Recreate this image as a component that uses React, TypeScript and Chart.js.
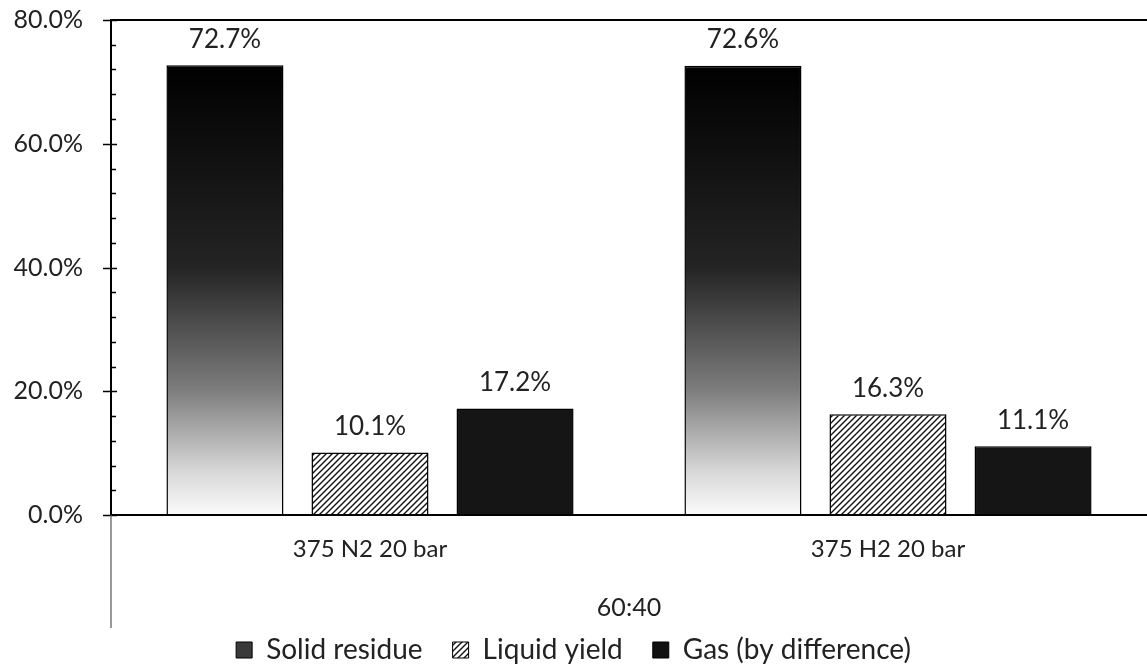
import React, { useEffect, useRef } from "react";
import { Chart, registerables } from "chart.js";

Chart.register(...registerables);

const categories = ["375 N2 20 bar", "375 H2 20 bar"];
const seriesNames = ["Solid residue", "Liquid yield", "Gas (by difference)"];
const solidResidue = [72.7, 72.6];
const liquidYield = [10.1, 16.3];
const gasByDifference = [17.2, 11.1];
const yMin = 0;
const yMax = 80;
const yMinorStep = 4;
const yMajorStep = 20;
const xAxisTitle = "60:40";

const FONT = "Lato, 'Open Sans', sans-serif";
const TEXT = "#222";

function makeHatch(): CanvasPattern | string {
  const c = document.createElement("canvas");
  c.width = 6;
  c.height = 6;
  const g = c.getContext("2d");
  if (!g) return "#999";
  g.fillStyle = "#fff";
  g.fillRect(0, 0, 6, 6);
  g.strokeStyle = "#111";
  g.lineWidth = 1.4;
  g.beginPath();
  g.moveTo(-1, 7);
  g.lineTo(7, -1);
  g.moveTo(-1, 1);
  g.lineTo(1, -1);
  g.moveTo(5, 7);
  g.lineTo(7, 5);
  g.stroke();
  const p = g.createPattern(c, "repeat");
  return p || "#999";
}

const labelPlugin = {
  id: "valueLabels",
  afterDatasetsDraw(chart: any) {
    const ctx = chart.ctx;
    ctx.save();
    ctx.font = `26px ${FONT}`;
    ctx.fillStyle = TEXT;
    ctx.textAlign = "center";
    ctx.textBaseline = "middle";
    chart.data.datasets.forEach((ds: any, i: number) => {
      const meta = chart.getDatasetMeta(i);
      meta.data.forEach((el: any, j: number) => {
        const v = ds.data[j];
        ctx.fillText(`${v.toFixed(1)}%`, el.x, el.y - 26);
      });
    });
    ctx.restore();
  },
};

const axisPlugin = {
  id: "axisTicks",
  afterDraw(chart: any) {
    const ctx = chart.ctx;
    const y = chart.scales.y;
    const x = chart.scales.x;
    const left = chart.chartArea.left;
    ctx.save();
    ctx.strokeStyle = "#000";
    ctx.lineWidth = 1.5;
    ctx.beginPath();
    y.ticks.forEach((t: any) => {
      const py = Math.round(y.getPixelForValue(t.value)) + 0.5;
      if (t.value % yMajorStep === 0) {
        ctx.moveTo(left - 8, py);
        ctx.lineTo(left + 6, py);
      } else {
        ctx.moveTo(left, py);
        ctx.lineTo(left + 5, py);
      }
    });
    ctx.stroke();
    ctx.strokeStyle = "#555";
    ctx.lineWidth = 1.2;
    ctx.beginPath();
    ctx.moveTo(left, chart.chartArea.bottom);
    ctx.lineTo(left, x.bottom + 22);
    ctx.stroke();
    ctx.restore();
  },
};

export default function App() {
  const ref = useRef<HTMLCanvasElement>(null);

  useEffect(() => {
    if (!ref.current) return;
    const hatch = makeHatch();

    const gradientFill = (c: any) => {
      const chart = c.chart;
      const ys = chart.scales && chart.scales.y;
      if (!ys || !chart.chartArea || c.type !== "data") return "#444";
      const top = ys.getPixelForValue(c.raw);
      const bot = ys.getPixelForValue(0);
      if (!isFinite(top) || !isFinite(bot) || bot <= top) return "#444";
      const g = chart.ctx.createLinearGradient(0, top, 0, bot);
      g.addColorStop(0, "#000");
      g.addColorStop(0.45, "#242424");
      g.addColorStop(0.72, "#7c7c7c");
      g.addColorStop(0.9, "#d6d6d6");
      g.addColorStop(1, "#fbfbfb");
      return g;
    };

    const legendFills = ["#3a3a3a", hatch, "#111"];

    const chart = new Chart(ref.current, {
      type: "bar",
      data: {
        labels: categories,
        datasets: [
          {
            label: seriesNames[0],
            data: solidResidue,
            backgroundColor: gradientFill,
            borderColor: "#000",
            borderWidth: 1.5,
          },
          {
            label: seriesNames[1],
            data: liquidYield,
            backgroundColor: hatch as any,
            borderColor: "#000",
            borderWidth: 1.5,
          },
          {
            label: seriesNames[2],
            data: gasByDifference,
            backgroundColor: "#151515",
            borderColor: "#000",
            borderWidth: 1.5,
          },
        ],
      },
      options: {
        animation: false,
        responsive: false,
        datasets: {
          bar: {
            categoryPercentage: 0.84,
            barPercentage: 0.807,
          },
        },
        layout: { padding: { top: 20, right: 0, left: 0, bottom: -6 } },
        plugins: {
          tooltip: { enabled: false },
          legend: {
            position: "bottom",
            labels: {
              font: { family: FONT, size: 28 },
              color: TEXT,
              boxWidth: 16,
              boxHeight: 16,
              padding: 30,
              generateLabels: () =>
                seriesNames.map((n, i) => ({
                  text: n,
                  fillStyle: legendFills[i] as any,
                  strokeStyle: "#000",
                  lineWidth: 1,
                  hidden: false,
                  datasetIndex: i,
                  fontColor: TEXT,
                })),
            },
          },
        },
        scales: {
          x: {
            afterFit: (s: any) => {
              s.height = 91;
            },
            grid: { display: true, drawOnChartArea: false, drawTicks: false },
            border: { display: true, color: "#000", width: 2 },
            ticks: {
              font: { family: FONT, size: 24 },
              color: TEXT,
              padding: 20,
            },
            title: {
              display: true,
              text: xAxisTitle,
              font: { family: FONT, size: 25 },
              color: TEXT,
              padding: { top: 0, bottom: -17 },
            },
          },
          y: {
            min: yMin,
            max: yMax,
            afterFit: (s: any) => {
              s.width = 111;
            },
            grid: {
              display: true,
              drawTicks: true,
              tickLength: 28,
              tickColor: "rgba(0,0,0,0)",
              lineWidth: 2,
              color: (c: any) =>
                c.tick && c.tick.value === yMax ? "#000" : "rgba(0,0,0,0)",
            },
            border: { display: true, color: "#000", width: 2 },
            ticks: {
              stepSize: yMinorStep,
              autoSkip: false,
              padding: 0,
              font: { family: FONT, size: 25 },
              color: TEXT,
              callback: (v: any) =>
                Number(v) % yMajorStep === 0 ? `${Number(v).toFixed(1)}%` : "",
            },
          },
        },
      },
      plugins: [labelPlugin, axisPlugin],
    });

    return () => chart.destroy();
  }, []);

  return (
    <div style={{ position: "absolute", left: 0, top: 0, width: 1147, height: 668, background: "#fff" }}>
      <canvas ref={ref} width={1147} height={668} style={{ display: "block" }} />
    </div>
  );
}
